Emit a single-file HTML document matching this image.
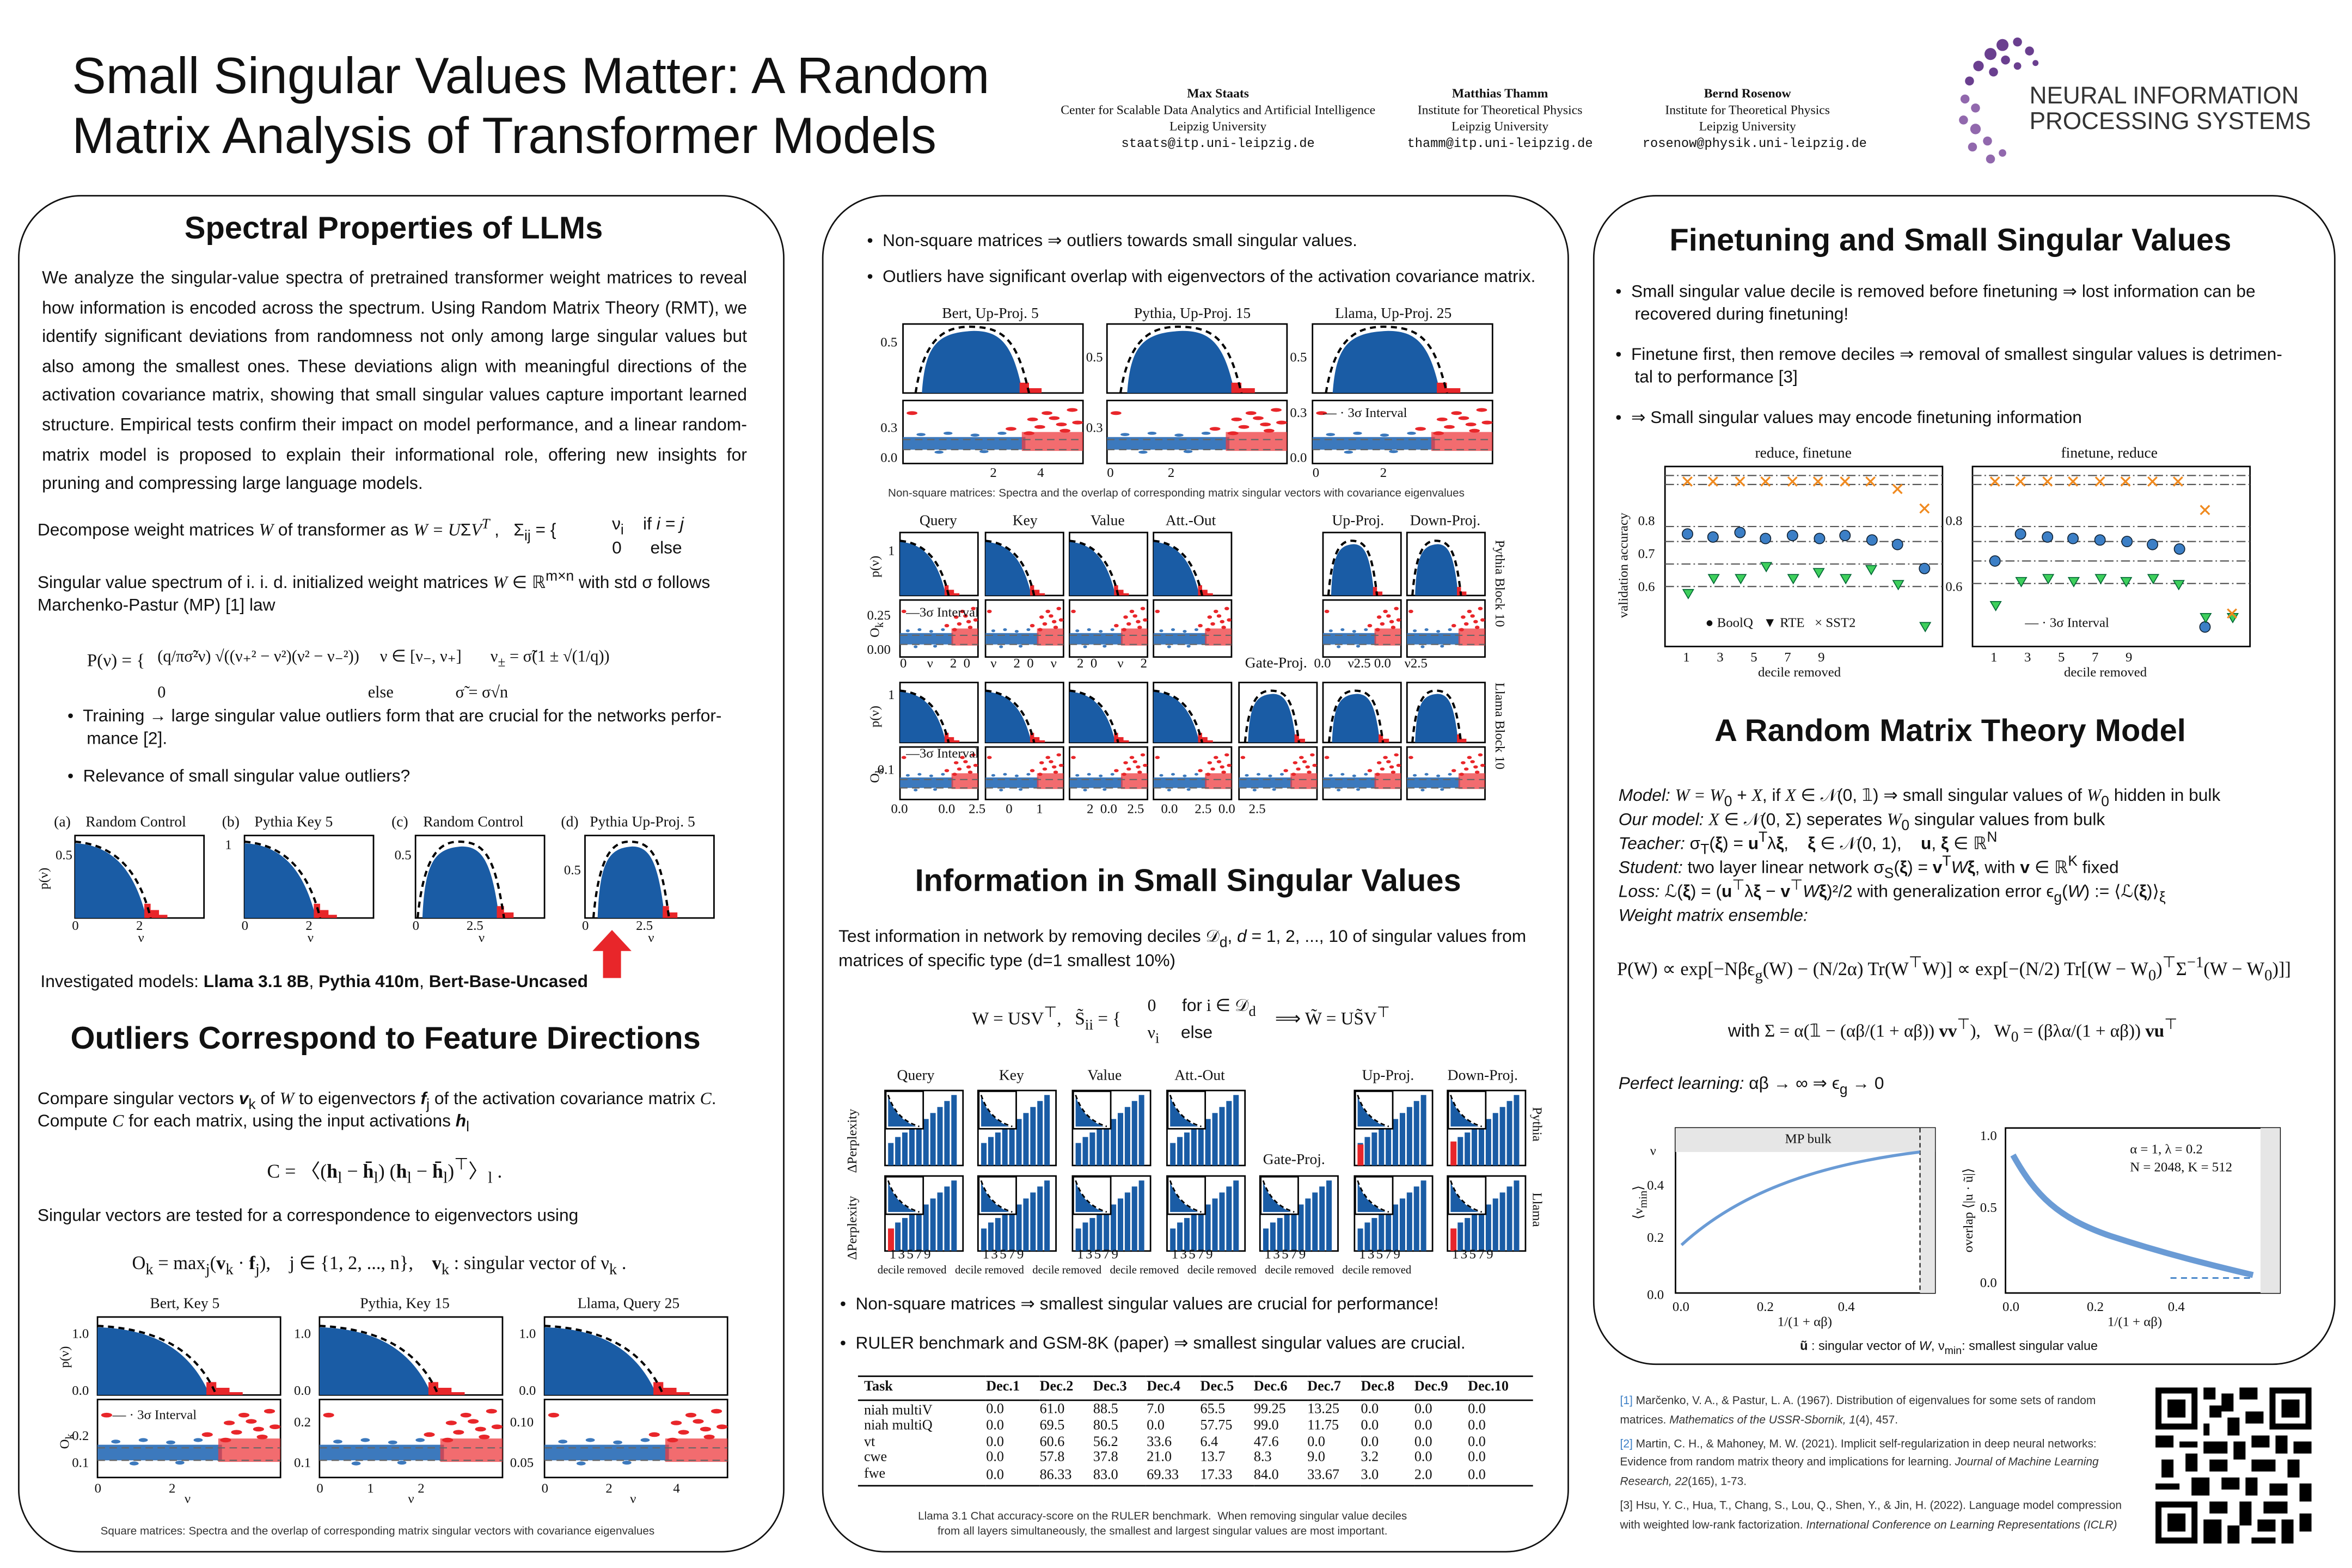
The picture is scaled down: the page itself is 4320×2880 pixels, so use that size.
<!DOCTYPE html>
<html><head><meta charset="utf-8">
<style>
*{margin:0;padding:0;box-sizing:border-box}
body{width:4320px;height:2880px;overflow:hidden;background:#fff}
#w{position:absolute;left:0;top:0;width:1568px;height:1045px;transform:scale(2.7551);transform-origin:0 0;font-family:"Liberation Sans",sans-serif;color:#111}
sub,sup{line-height:0}
.a{position:absolute;white-space:nowrap}
.s{font-family:"Liberation Serif",serif}
.box{position:absolute;border:1.6px solid #111;border-radius:42px}
h2{position:absolute;font-size:21px;font-weight:bold;white-space:nowrap}
.p{position:absolute;font-size:11.6px;line-height:19.6px;text-align:justify}
.t{font-size:11.5px}
.sm{font-size:9px}
svg.g{position:absolute;overflow:visible}
.ttl{font-family:"Liberation Serif",serif;font-size:10px}
</style></head><body><div id="w">

<svg width="0" height="0" style="position:absolute">
<defs>
<symbol id="hq" viewBox="0 0 100 100" preserveAspectRatio="none">
<path d="M0 100 L0 6 C30 8 55 30 68 100 Z" fill="#1a5ca5"/>
<path d="M66 100 L66 82 L72 82 L72 90 L80 90 L80 96 L88 96 L88 100Z" fill="#e8262a"/>
<path d="M0 4 C35 8 60 35 72 100" fill="none" stroke="#000" stroke-dasharray="4 3" stroke-width="1.5" vector-effect="non-scaling-stroke"/>
</symbol>
<symbol id="hb" viewBox="0 0 100 100" preserveAspectRatio="none">
<path d="M12 100 C14 30 22 12 45 10 C62 10 70 30 76 100 Z" fill="#1a5ca5"/>
<path d="M74 100 L74 85 L80 85 L80 93 L88 93 L88 100Z" fill="#e8262a"/>
<path d="M8 100 C14 10 30 0 50 5 C68 10 74 40 80 100" fill="none" stroke="#000" stroke-dasharray="4 3" stroke-width="1.5" vector-effect="non-scaling-stroke"/>
</symbol>
<symbol id="sc" viewBox="0 0 100 100" preserveAspectRatio="none">
<rect x="0" y="58" width="68" height="20" fill="#3c79bd"/>
<rect x="66" y="50" width="34" height="30" fill="#ee3b3f" opacity=".75"/>
<g fill="#e8262a"><circle cx="72" cy="30" r="3"/><circle cx="80" cy="20" r="3"/><circle cx="88" cy="38" r="3"/><circle cx="94" cy="15" r="3"/><circle cx="60" cy="45" r="3"/><circle cx="5" cy="20" r="3"/><circle cx="84" cy="28" r="3"/><circle cx="76" cy="42" r="3"/><circle cx="97" cy="35" r="3"/><circle cx="70" cy="52" r="3"/><circle cx="90" cy="48" r="3"/></g>
<g fill="#3c79bd"><circle cx="10" cy="54" r="2.5"/><circle cx="25" cy="52" r="2.5"/><circle cx="40" cy="55" r="2.5"/><circle cx="55" cy="52" r="2.5"/><circle cx="20" cy="82" r="2.5"/><circle cx="45" cy="81" r="2.5"/></g>
<line x1="0" y1="62" x2="100" y2="62" stroke="#666" stroke-dasharray="5 3" vector-effect="non-scaling-stroke" stroke-width=".8"/>
<line x1="0" y1="78" x2="100" y2="78" stroke="#666" stroke-dasharray="5 3" vector-effect="non-scaling-stroke" stroke-width=".8"/>
</symbol>
<symbol id="br" viewBox="0 0 100 100" preserveAspectRatio="none">
<g fill="#1a5ca5"><rect x="4" y="70" width="7" height="30"/><rect x="13" y="62" width="7" height="38"/><rect x="22" y="56" width="7" height="44"/><rect x="31" y="50" width="7" height="50"/><rect x="40" y="44" width="7" height="56"/><rect x="49" y="38" width="7" height="62"/><rect x="58" y="30" width="7" height="70"/><rect x="67" y="22" width="7" height="78"/><rect x="76" y="14" width="7" height="86"/><rect x="85" y="6" width="7" height="94"/></g>
<rect x="1" y="1" width="48" height="50" fill="#fff" stroke="#000" stroke-width="1" vector-effect="non-scaling-stroke"/>
<path d="M4 8 L4 48 L40 48 C20 40 10 25 4 8Z" fill="#1a5ca5"/>
<path d="M4 6 C12 30 25 42 44 48" fill="none" stroke="#000" stroke-dasharray="3 2" vector-effect="non-scaling-stroke"/>
</symbol>
</defs></svg>

<!-- header -->
<div class="a" style="left:48px;top:31px;font-size:34px;line-height:40px">Small Singular Values Matter: A Random<br>Matrix Analysis of Transformer Models</div>
<div class="a s" style="left:697px;top:57px;width:230px;text-align:center;font-size:8.6px;line-height:11px"><b>Max Staats</b><br>Center for Scalable Data Analytics and Artificial Intelligence<br>Leipzig University<br><span style="font-family:'Liberation Mono'">staats@itp.uni-leipzig.de</span></div>
<div class="a s" style="left:935px;top:57px;width:130px;text-align:center;font-size:8.6px;line-height:11px"><b>Matthias Thamm</b><br>Institute for Theoretical Physics<br>Leipzig University<br><span style="font-family:'Liberation Mono'">thamm@itp.uni-leipzig.de</span></div>
<div class="a s" style="left:1095px;top:57px;width:140px;text-align:center;font-size:8.6px;line-height:11px"><b>Bernd Rosenow</b><br>Institute for Theoretical Physics<br>Leipzig University<br><span style="font-family:'Liberation Mono'">rosenow@physik.uni-leipzig.de</span></div>
<svg class="g" style="left:1305px;top:22px" width="60" height="90" viewBox="0 0 60 90">
<g fill="#6a3f8f"><circle cx="30" cy="8" r="4"/><circle cx="40" cy="6" r="3"/><circle cx="22" cy="14" r="4"/><circle cx="48" cy="12" r="3"/><circle cx="14" cy="22" r="3.5"/><circle cx="32" cy="18" r="3"/><circle cx="8" cy="32" r="3"/><circle cx="24" cy="26" r="3"/><circle cx="40" cy="22" r="2.5"/><circle cx="52" cy="20" r="2"/></g>
<g fill="#9168ad"><circle cx="5" cy="44" r="3"/><circle cx="12" cy="50" r="3"/><circle cx="4" cy="58" r="3"/><circle cx="12" cy="64" r="3.5"/><circle cx="20" cy="72" r="3"/><circle cx="10" cy="76" r="3"/><circle cx="22" cy="84" r="3"/><circle cx="30" cy="80" r="2.5"/></g></svg>
<div class="a" style="left:1353px;top:56px;font-size:16px;line-height:17px;color:#333">NEURAL INFORMATION<br>PROCESSING SYSTEMS</div>

<!-- PANEL 1 -->
<div class="box" style="left:12px;top:130px;width:511px;height:905px"></div>
<h2 style="left:123px;top:141px">Spectral Properties of LLMs</h2>
<div class="p" style="left:28px;top:176px;width:470px">We analyze the singular-value spectra of pretrained transformer weight matrices to reveal how information is encoded across the spectrum. Using Random Matrix Theory (RMT), we identify significant deviations from randomness not only among large singular values but also among the smallest ones. These deviations align with meaningful directions of the activation covariance matrix, showing that small singular values capture important learned structure. Empirical tests confirm their impact on model performance, and a linear random-matrix model is proposed to explain their informational role, offering new insights for pruning and compressing large language models.</div>
<div class="a t" style="left:25px;top:348px">Decompose weight matrices <i class="s">W</i> of transformer as <i class="s">W = U</i>Σ<i class="s">V<sup>T</sup></i> ,&nbsp;&nbsp; Σ<sub>ij</sub> = {&nbsp;</div>
<div class="a t" style="left:408px;top:342px;line-height:16px">ν<sub>i</sub>&nbsp;&nbsp;&nbsp; if <i>i = j</i><br>0&nbsp;&nbsp;&nbsp;&nbsp;&nbsp; else</div>
<div class="a t" style="left:25px;top:382px;line-height:15px">Singular value spectrum of i. i. d. initialized weight matrices <i class="s">W</i> ∈ ℝ<sup>m×n</sup> with std σ follows<br>Marchenko-Pastur (MP) [1] law</div>
<div class="a t s" style="left:58px;top:433px;font-size:12px">P(ν) = {</div>
<div class="a t s" style="left:105px;top:426px;font-size:11px;line-height:24px">(q/πσ̃²ν) √((ν₊² − ν²)(ν² − ν₋²))&nbsp;&nbsp;&nbsp;&nbsp; ν ∈ [ν₋, ν₊]&nbsp;&nbsp;&nbsp;&nbsp;&nbsp;&nbsp; ν<sub>±</sub> = σ̃(1 ± √(1/q))<br>0&nbsp;&nbsp;&nbsp;&nbsp;&nbsp;&nbsp;&nbsp;&nbsp;&nbsp;&nbsp;&nbsp;&nbsp;&nbsp;&nbsp;&nbsp;&nbsp;&nbsp;&nbsp;&nbsp;&nbsp;&nbsp;&nbsp;&nbsp;&nbsp;&nbsp;&nbsp;&nbsp;&nbsp;&nbsp;&nbsp;&nbsp;&nbsp;&nbsp;&nbsp;&nbsp;&nbsp;&nbsp;&nbsp;&nbsp;&nbsp;&nbsp;&nbsp;&nbsp;&nbsp;&nbsp;&nbsp;&nbsp;&nbsp; else&nbsp;&nbsp;&nbsp;&nbsp;&nbsp;&nbsp;&nbsp;&nbsp;&nbsp;&nbsp;&nbsp;&nbsp;&nbsp;&nbsp; σ̃ = σ√n</div>
<div class="a t" style="left:45px;top:471px;line-height:15px">•&nbsp; Training → large singular value outliers form that are crucial for the networks perfor-<br>&nbsp;&nbsp;&nbsp; mance [2].</div>
<div class="a t" style="left:45px;top:512px">•&nbsp; Relevance of small singular value outliers?</div>
<!-- 4 plots -->
<div class="a ttl" style="left:36px;top:543px">(a)&nbsp;&nbsp;&nbsp; Random Control</div>
<div class="a ttl" style="left:148px;top:543px">(b)&nbsp;&nbsp;&nbsp; Pythia Key 5</div>
<div class="a ttl" style="left:261px;top:543px">(c)&nbsp;&nbsp;&nbsp; Random Control</div>
<div class="a ttl" style="left:374px;top:543px">(d)&nbsp;&nbsp; Pythia Up-Proj. 5</div>
<svg class="g" style="left:50px;top:557px" width="86" height="55"><rect x="0" y="0" width="86" height="55" fill="#fff" stroke="#000"/><use href="#hq" x="0" y="2" width="70" height="53"/></svg>
<svg class="g" style="left:163px;top:557px" width="86" height="55"><rect x="0" y="0" width="86" height="55" fill="#fff" stroke="#000"/><use href="#hq" x="0" y="2" width="70" height="53"/></svg>
<svg class="g" style="left:277px;top:557px" width="86" height="55"><rect x="0" y="0" width="86" height="55" fill="#fff" stroke="#000"/><use href="#hb" x="-5" y="2" width="80" height="53"/></svg>
<svg class="g" style="left:390px;top:557px" width="86" height="55"><rect x="0" y="0" width="86" height="55" fill="#fff" stroke="#000"/><use href="#hb" x="0" y="2" width="70" height="53"/></svg>
<div class="a s sm" style="left:24px;top:593px;transform:rotate(-90deg);transform-origin:0 0">p(ν)</div>
<div class="a s sm" style="left:37px;top:565px">0.5</div><div class="a s sm" style="left:150px;top:558px">1</div><div class="a s sm" style="left:263px;top:565px">0.5</div><div class="a s sm" style="left:376px;top:575px">0.5</div>
<div class="a s sm" style="left:48px;top:612px">0&nbsp;&nbsp;&nbsp;&nbsp;&nbsp;&nbsp;&nbsp;&nbsp;&nbsp;&nbsp;&nbsp;&nbsp;&nbsp;&nbsp;&nbsp;&nbsp; 2</div>
<div class="a s sm" style="left:161px;top:612px">0&nbsp;&nbsp;&nbsp;&nbsp;&nbsp;&nbsp;&nbsp;&nbsp;&nbsp;&nbsp;&nbsp;&nbsp;&nbsp;&nbsp;&nbsp;&nbsp; 2</div>
<div class="a s sm" style="left:275px;top:612px">0&nbsp;&nbsp;&nbsp;&nbsp;&nbsp;&nbsp;&nbsp;&nbsp;&nbsp;&nbsp;&nbsp;&nbsp;&nbsp; 2.5</div>
<div class="a s sm" style="left:388px;top:612px">0&nbsp;&nbsp;&nbsp;&nbsp;&nbsp;&nbsp;&nbsp;&nbsp;&nbsp;&nbsp;&nbsp;&nbsp;&nbsp; 2.5</div>
<div class="a s sm" style="left:92px;top:620px">ν</div><div class="a s sm" style="left:205px;top:620px">ν</div><div class="a s sm" style="left:319px;top:620px">ν</div><div class="a s sm" style="left:432px;top:620px">ν</div>
<svg class="g" style="left:395px;top:620px" width="26" height="32"><path d="M13 0 L26 14 L19 14 L19 32 L7 32 L7 14 L0 14Z" fill="#e8262a"/></svg>
<div class="a t" style="left:27px;top:649px">Investigated models: <b>Llama 3.1 8B</b>, <b>Pythia 410m</b>, <b>Bert-Base-Uncased</b></div>
<h2 style="left:47px;top:681px">Outliers Correspond to Feature Directions</h2>
<div class="a t" style="left:25px;top:726px;line-height:15px">Compare singular vectors <b><i>v</i></b><sub>k</sub> of <i class="s">W</i> to eigenvectors <b><i>f</i></b><sub>j</sub> of the activation covariance matrix <i class="s">C</i>.<br>Compute <i class="s">C</i> for each matrix, using the input activations <b><i>h</i></b><sub>l</sub></div>
<div class="a s" style="left:178px;top:770px;font-size:13px">C = 〈(<b>h</b><sub>l</sub> − <b>h̄</b><sub>l</sub>) (<b>h</b><sub>l</sub> − <b>h̄</b><sub>l</sub>)<sup>⊤</sup>〉<sub>l</sub> .</div>
<div class="a t" style="left:25px;top:805px">Singular vectors are tested for a correspondence to eigenvectors using</div>
<div class="a s" style="left:88px;top:834px;font-size:12.5px">O<sub>k</sub> = max<sub>j</sub>(<b>v</b><sub>k</sub> · <b>f</b><sub>j</sub>),&nbsp;&nbsp;&nbsp; j ∈ {1, 2, ..., n},&nbsp;&nbsp;&nbsp; <b>v</b><sub>k</sub> : singular vector of ν<sub>k</sub> .</div>
<div class="a ttl" style="left:100px;top:864px">Bert, Key 5</div><div class="a ttl" style="left:240px;top:864px">Pythia, Key 15</div><div class="a ttl" style="left:385px;top:864px">Llama, Query 25</div>
<svg class="g" style="left:65px;top:878px" width="122" height="52"><rect width="122" height="52" fill="#fff" stroke="#000"/><use href="#hq" x="0" y="4" width="110" height="48"/></svg>
<svg class="g" style="left:213px;top:878px" width="122" height="52"><rect width="122" height="52" fill="#fff" stroke="#000"/><use href="#hq" x="0" y="4" width="110" height="48"/></svg>
<svg class="g" style="left:363px;top:878px" width="122" height="52"><rect width="122" height="52" fill="#fff" stroke="#000"/><use href="#hq" x="0" y="4" width="110" height="48"/></svg>
<svg class="g" style="left:65px;top:933px" width="122" height="52"><rect width="122" height="52" fill="#fff" stroke="#000"/><use href="#sc" width="122" height="52"/></svg>
<svg class="g" style="left:213px;top:933px" width="122" height="52"><rect width="122" height="52" fill="#fff" stroke="#000"/><use href="#sc" width="122" height="52"/></svg>
<svg class="g" style="left:363px;top:933px" width="122" height="52"><rect width="122" height="52" fill="#fff" stroke="#000"/><use href="#sc" width="122" height="52"/></svg>
<div class="a s sm" style="left:75px;top:938px">— · 3σ Interval</div>
<div class="a s sm" style="left:38px;top:912px;transform:rotate(-90deg);transform-origin:0 0">p(ν)</div><div class="a s sm" style="left:38px;top:966px;transform:rotate(-90deg);transform-origin:0 0">O<sub>k</sub></div>
<div class="a s sm" style="left:48px;top:884px">1.0</div><div class="a s sm" style="left:48px;top:922px">0.0</div><div class="a s sm" style="left:196px;top:884px">1.0</div><div class="a s sm" style="left:196px;top:922px">0.0</div><div class="a s sm" style="left:346px;top:884px">1.0</div><div class="a s sm" style="left:346px;top:922px">0.0</div>
<div class="a s sm" style="left:48px;top:952px">0.2</div><div class="a s sm" style="left:48px;top:970px">0.1</div><div class="a s sm" style="left:196px;top:943px">0.2</div><div class="a s sm" style="left:196px;top:970px">0.1</div><div class="a s sm" style="left:340px;top:943px">0.10</div><div class="a s sm" style="left:340px;top:970px">0.05</div>
<div class="a s sm" style="left:63px;top:987px">0&nbsp;&nbsp;&nbsp;&nbsp;&nbsp;&nbsp;&nbsp;&nbsp;&nbsp;&nbsp;&nbsp;&nbsp;&nbsp;&nbsp;&nbsp;&nbsp;&nbsp;&nbsp;&nbsp; 2</div>
<div class="a s sm" style="left:211px;top:987px">0&nbsp;&nbsp;&nbsp;&nbsp;&nbsp;&nbsp;&nbsp;&nbsp;&nbsp;&nbsp;&nbsp;&nbsp; 1&nbsp;&nbsp;&nbsp;&nbsp;&nbsp;&nbsp;&nbsp;&nbsp;&nbsp;&nbsp;&nbsp;&nbsp; 2</div>
<div class="a s sm" style="left:361px;top:987px">0&nbsp;&nbsp;&nbsp;&nbsp;&nbsp;&nbsp;&nbsp;&nbsp;&nbsp;&nbsp;&nbsp;&nbsp;&nbsp;&nbsp;&nbsp;&nbsp; 2&nbsp;&nbsp;&nbsp;&nbsp;&nbsp;&nbsp;&nbsp;&nbsp;&nbsp;&nbsp;&nbsp;&nbsp;&nbsp;&nbsp;&nbsp;&nbsp;&nbsp; 4</div>
<div class="a s sm" style="left:123px;top:994px">ν</div><div class="a s sm" style="left:272px;top:994px">ν</div><div class="a s sm" style="left:420px;top:994px">ν</div>
<div class="a" style="left:67px;top:1016px;font-size:7.5px;color:#333">Square matrices: Spectra and the overlap of corresponding matrix singular vectors with covariance eigenvalues</div>

<!-- PANEL 2 -->
<div class="box" style="left:548px;top:130px;width:498px;height:905px"></div>
<div class="a t" style="left:578px;top:153px">•&nbsp; Non-square matrices ⇒ outliers towards small singular values.</div>
<div class="a t" style="left:578px;top:179px">•&nbsp; Outliers have significant overlap with eigenvectors of the activation covariance matrix.</div>
<div class="a ttl" style="left:628px;top:204px">Bert, Up-Proj. 5</div><div class="a ttl" style="left:756px;top:204px">Pythia, Up-Proj. 15</div><div class="a ttl" style="left:890px;top:204px">Llama, Up-Proj. 25</div>
<svg class="g" style="left:602px;top:216px" width="120" height="46"><rect width="120" height="46" fill="#fff" stroke="#000"/><use href="#hb" x="0" y="0" width="105" height="46"/></svg>
<svg class="g" style="left:738px;top:216px" width="120" height="46"><rect width="120" height="46" fill="#fff" stroke="#000"/><use href="#hb" x="0" y="0" width="112" height="46"/></svg>
<svg class="g" style="left:875px;top:216px" width="120" height="46"><rect width="120" height="46" fill="#fff" stroke="#000"/><use href="#hb" x="0" y="0" width="112" height="46"/></svg>
<svg class="g" style="left:602px;top:267px" width="120" height="42"><rect width="120" height="42" fill="#fff" stroke="#000"/><use href="#sc" width="120" height="42"/></svg>
<svg class="g" style="left:738px;top:267px" width="120" height="42"><rect width="120" height="42" fill="#fff" stroke="#000"/><use href="#sc" width="120" height="42"/></svg>
<svg class="g" style="left:875px;top:267px" width="120" height="42"><rect width="120" height="42" fill="#fff" stroke="#000"/><use href="#sc" width="120" height="42"/></svg>
<div class="a s sm" style="left:882px;top:270px">— · 3σ Interval</div>
<div class="a s sm" style="left:587px;top:223px">0.5</div><div class="a s sm" style="left:724px;top:233px">0.5</div><div class="a s sm" style="left:860px;top:233px">0.5</div>
<div class="a s sm" style="left:587px;top:280px">0.3</div><div class="a s sm" style="left:587px;top:300px">0.0</div><div class="a s sm" style="left:724px;top:280px">0.3</div><div class="a s sm" style="left:860px;top:270px">0.3</div><div class="a s sm" style="left:860px;top:300px">0.0</div>
<div class="a s sm" style="left:660px;top:310px">2&nbsp;&nbsp;&nbsp;&nbsp;&nbsp;&nbsp;&nbsp;&nbsp;&nbsp;&nbsp;&nbsp; 4</div><div class="a s sm" style="left:738px;top:310px">0&nbsp;&nbsp;&nbsp;&nbsp;&nbsp;&nbsp;&nbsp;&nbsp;&nbsp;&nbsp;&nbsp;&nbsp;&nbsp;&nbsp;&nbsp; 2</div><div class="a s sm" style="left:875px;top:310px">0&nbsp;&nbsp;&nbsp;&nbsp;&nbsp;&nbsp;&nbsp;&nbsp;&nbsp;&nbsp;&nbsp;&nbsp;&nbsp;&nbsp;&nbsp;&nbsp;&nbsp; 2</div>
<div class="a" style="left:592px;top:324px;font-size:7.5px;color:#333">Non-square matrices: Spectra and the overlap of corresponding matrix singular vectors with covariance eigenvalues</div>
<!-- pythia/llama block grid -->
<div class="a ttl" style="left:613px;top:342px">Query</div><div class="a ttl" style="left:675px;top:342px">Key</div><div class="a ttl" style="left:727px;top:342px">Value</div><div class="a ttl" style="left:777px;top:342px">Att.-Out</div><div class="a ttl" style="left:888px;top:342px">Up-Proj.</div><div class="a ttl" style="left:940px;top:342px">Down-Proj.</div>
<svg class="g" style="left:600px;top:355px" width="400" height="180">
<g stroke="#000" fill="#fff">
<rect x="0" y="0" width="52" height="42"/><rect x="57" y="0" width="52" height="42"/><rect x="113" y="0" width="52" height="42"/><rect x="169" y="0" width="52" height="42"/><rect x="282" y="0" width="52" height="42"/><rect x="338" y="0" width="52" height="42"/>
<rect x="0" y="45" width="52" height="38"/><rect x="57" y="45" width="52" height="38"/><rect x="113" y="45" width="52" height="38"/><rect x="169" y="45" width="52" height="38"/><rect x="282" y="45" width="52" height="38"/><rect x="338" y="45" width="52" height="38"/>
<rect x="0" y="100" width="52" height="40"/><rect x="57" y="100" width="52" height="40"/><rect x="113" y="100" width="52" height="40"/><rect x="169" y="100" width="52" height="40"/><rect x="226" y="100" width="52" height="40"/><rect x="282" y="100" width="52" height="40"/><rect x="338" y="100" width="52" height="40"/>
<rect x="0" y="143" width="52" height="35"/><rect x="57" y="143" width="52" height="35"/><rect x="113" y="143" width="52" height="35"/><rect x="169" y="143" width="52" height="35"/><rect x="226" y="143" width="52" height="35"/><rect x="282" y="143" width="52" height="35"/><rect x="338" y="143" width="52" height="35"/>
</g>
<use href="#hq" x="0" y="4" width="45" height="38"/><use href="#hq" x="57" y="4" width="45" height="38"/><use href="#hq" x="113" y="4" width="45" height="38"/><use href="#hq" x="169" y="4" width="45" height="38"/><use href="#hb" x="282" y="4" width="45" height="38"/><use href="#hb" x="338" y="4" width="45" height="38"/>
<use href="#sc" x="0" y="45" width="52" height="38"/><use href="#sc" x="57" y="45" width="52" height="38"/><use href="#sc" x="113" y="45" width="52" height="38"/><use href="#sc" x="169" y="45" width="52" height="38"/><use href="#sc" x="282" y="45" width="52" height="38"/><use href="#sc" x="338" y="45" width="52" height="38"/>
<use href="#hq" x="0" y="104" width="45" height="36"/><use href="#hq" x="57" y="104" width="45" height="36"/><use href="#hq" x="113" y="104" width="45" height="36"/><use href="#hq" x="169" y="104" width="45" height="36"/><use href="#hb" x="226" y="104" width="50" height="36"/><use href="#hb" x="282" y="104" width="50" height="36"/><use href="#hb" x="338" y="104" width="45" height="36"/>
<use href="#sc" x="0" y="143" width="52" height="35"/><use href="#sc" x="57" y="143" width="52" height="35"/><use href="#sc" x="113" y="143" width="52" height="35"/><use href="#sc" x="169" y="143" width="52" height="35"/><use href="#sc" x="226" y="143" width="52" height="35"/><use href="#sc" x="282" y="143" width="52" height="35"/><use href="#sc" x="338" y="143" width="52" height="35"/>
</svg>
<div class="a ttl" style="left:830px;top:437px">Gate-Proj.</div>
<div class="a s sm" style="top:360px;transform:rotate(90deg);transform-origin:0 0;left:1005px">Pythia Block 10</div>
<div class="a s sm" style="left:1005px;top:455px;transform:rotate(90deg);transform-origin:0 0">Llama Block 10</div>
<div class="a s sm" style="left:578px;top:385px;transform:rotate(-90deg);transform-origin:0 0">p(ν)</div><div class="a s sm" style="left:578px;top:425px;transform:rotate(-90deg);transform-origin:0 0">O<sub>k</sub></div>
<div class="a s sm" style="left:578px;top:485px;transform:rotate(-90deg);transform-origin:0 0">p(ν)</div><div class="a s sm" style="left:578px;top:522px;transform:rotate(-90deg);transform-origin:0 0">O<sub>k</sub></div>
<div class="a s sm" style="left:604px;top:403px">—3σ Interval</div><div class="a s sm" style="left:604px;top:497px">—3σ Interval</div>
<div class="a s sm" style="left:592px;top:362px">1</div><div class="a s sm" style="left:578px;top:405px">0.25</div><div class="a s sm" style="left:578px;top:428px">0.00</div>
<div class="a s sm" style="left:592px;top:458px">1</div><div class="a s sm" style="left:585px;top:508px">0.1</div>
<div class="a s sm" style="left:600px;top:437px">0&nbsp;&nbsp;&nbsp;&nbsp;&nbsp; ν&nbsp;&nbsp;&nbsp;&nbsp; 2&nbsp; 0&nbsp;&nbsp;&nbsp;&nbsp;&nbsp; ν&nbsp;&nbsp;&nbsp;&nbsp; 2&nbsp; 0&nbsp;&nbsp;&nbsp;&nbsp; ν&nbsp;&nbsp;&nbsp;&nbsp;&nbsp; 2&nbsp; 0&nbsp;&nbsp;&nbsp;&nbsp;&nbsp; ν&nbsp;&nbsp;&nbsp;&nbsp; 2</div>
<div class="a s sm" style="left:876px;top:437px">0.0&nbsp;&nbsp;&nbsp;&nbsp; ν2.5 0.0&nbsp;&nbsp;&nbsp; ν2.5</div>
<div class="a s sm" style="left:594px;top:534px">0.0&nbsp;&nbsp;&nbsp;&nbsp;&nbsp;&nbsp;&nbsp;&nbsp; 0.0&nbsp;&nbsp;&nbsp; 2.5&nbsp;&nbsp;&nbsp;&nbsp;&nbsp; 0&nbsp;&nbsp;&nbsp;&nbsp;&nbsp;&nbsp; 1&nbsp;&nbsp;&nbsp;&nbsp;&nbsp;&nbsp;&nbsp;&nbsp;&nbsp;&nbsp;&nbsp;&nbsp; 2&nbsp; 0.0&nbsp;&nbsp; 2.5&nbsp;&nbsp;&nbsp;&nbsp; 0.0&nbsp;&nbsp;&nbsp;&nbsp; 2.5&nbsp; 0.0&nbsp;&nbsp;&nbsp; 2.5</div>
<h2 style="left:610px;top:576px">Information in Small Singular Values</h2>
<div class="a t" style="left:559px;top:617px;line-height:16px">Test information in network by removing deciles 𝒟<sub>d</sub>, <i>d</i> = 1, 2, ..., 10 of singular values from<br>matrices of specific type (d=1 smallest 10%)</div>
<div class="a s" style="left:648px;top:672px;font-size:12px">W = USV<sup>⊤</sup>,&nbsp;&nbsp; S̃<sub>ii</sub> = {</div>
<div class="a s" style="left:765px;top:662px;font-size:11.5px;line-height:18px">0&nbsp;&nbsp;&nbsp;&nbsp;&nbsp; <span style="font-family:'Liberation Sans'">for</span> i ∈ 𝒟<sub>d</sub><br>ν<sub>i</sub>&nbsp;&nbsp;&nbsp;&nbsp; <span style="font-family:'Liberation Sans'">else</span></div>
<div class="a s" style="left:850px;top:672px;font-size:12px">⟹ W̃ = US̃V<sup>⊤</sup></div>
<!-- bar grid -->
<div class="a ttl" style="left:598px;top:712px">Query</div><div class="a ttl" style="left:666px;top:712px">Key</div><div class="a ttl" style="left:725px;top:712px">Value</div><div class="a ttl" style="left:783px;top:712px">Att.-Out</div><div class="a ttl" style="left:908px;top:712px">Up-Proj.</div><div class="a ttl" style="left:965px;top:712px">Down-Proj.</div><div class="a ttl" style="left:842px;top:768px">Gate-Proj.</div>
<svg class="g" style="left:590px;top:727px" width="430" height="110">
<g stroke="#000" fill="#fff">
<rect x="0" y="0" width="52" height="50"/><rect x="62" y="0" width="52" height="50"/><rect x="125" y="0" width="52" height="50"/><rect x="188" y="0" width="52" height="50"/><rect x="313" y="0" width="52" height="50"/><rect x="375" y="0" width="52" height="50"/>
<rect x="0" y="57" width="52" height="50"/><rect x="62" y="57" width="52" height="50"/><rect x="125" y="57" width="52" height="50"/><rect x="188" y="57" width="52" height="50"/><rect x="250" y="57" width="52" height="50"/><rect x="313" y="57" width="52" height="50"/><rect x="375" y="57" width="52" height="50"/>
</g>
<use href="#br" x="0" y="0" width="52" height="50"/><use href="#br" x="62" y="0" width="52" height="50"/><use href="#br" x="125" y="0" width="52" height="50"/><use href="#br" x="188" y="0" width="52" height="50"/><use href="#br" x="313" y="0" width="52" height="50"/><use href="#br" x="375" y="0" width="52" height="50"/>
<use href="#br" x="0" y="57" width="52" height="50"/><use href="#br" x="62" y="57" width="52" height="50"/><use href="#br" x="125" y="57" width="52" height="50"/><use href="#br" x="188" y="57" width="52" height="50"/><use href="#br" x="250" y="57" width="52" height="50"/><use href="#br" x="313" y="57" width="52" height="50"/><use href="#br" x="375" y="57" width="52" height="50"/>
<g fill="#e8262a"><rect x="315" y="36" width="4" height="14"/><rect x="377" y="34" width="4" height="16"/><rect x="2" y="92" width="4" height="15"/><rect x="377" y="92" width="4" height="15"/></g>
</svg>
<div class="a s sm" style="left:563px;top:782px;transform:rotate(-90deg);transform-origin:0 0">ΔPerplexity</div>
<div class="a s sm" style="left:563px;top:840px;transform:rotate(-90deg);transform-origin:0 0">ΔPerplexity</div>
<div class="a s sm" style="top:738px;transform:rotate(90deg);transform-origin:0 0;left:1030px">Pythia</div>
<div class="a s sm" style="left:1030px;top:795px;transform:rotate(90deg);transform-origin:0 0">Llama</div>
<div class="a s" style="left:593px;top:831px;font-size:9px;word-spacing:-1px">1 3 5 7 9</div><div class="a s" style="left:655px;top:831px;font-size:9px;word-spacing:-1px">1 3 5 7 9</div><div class="a s" style="left:718px;top:831px;font-size:9px;word-spacing:-1px">1 3 5 7 9</div><div class="a s" style="left:781px;top:831px;font-size:9px;word-spacing:-1px">1 3 5 7 9</div><div class="a s" style="left:843px;top:831px;font-size:9px;word-spacing:-1px">1 3 5 7 9</div><div class="a s" style="left:906px;top:831px;font-size:9px;word-spacing:-1px">1 3 5 7 9</div><div class="a s" style="left:968px;top:831px;font-size:9px;word-spacing:-1px">1 3 5 7 9</div>
<div class="a s" style="left:585px;top:842px;font-size:7.5px">decile removed&nbsp;&nbsp; decile removed&nbsp;&nbsp; decile removed&nbsp;&nbsp; decile removed&nbsp;&nbsp; decile removed&nbsp;&nbsp; decile removed&nbsp;&nbsp; decile removed</div>
<div class="a t" style="left:560px;top:862px">•&nbsp; Non-square matrices ⇒ smallest singular values are crucial for performance!</div>
<div class="a t" style="left:560px;top:888px">•&nbsp; RULER benchmark and GSM-8K (paper) ⇒ smallest singular values are crucial.</div>
<table class="a s" style="left:572px;top:917px;width:450px;border-collapse:collapse;font-size:9.5px;line-height:10.5px;border-top:1.5px solid #000;border-bottom:1.5px solid #000">
<tr style="border-bottom:1px solid #000;font-weight:bold"><td style="padding:2px 4px">Task</td><td>Dec.1</td><td>Dec.2</td><td>Dec.3</td><td>Dec.4</td><td>Dec.5</td><td>Dec.6</td><td>Dec.7</td><td>Dec.8</td><td>Dec.9</td><td>Dec.10</td></tr>
<tr><td style="padding:2px 4px 0">niah multiV</td><td>0.0</td><td>61.0</td><td>88.5</td><td>7.0</td><td>65.5</td><td>99.25</td><td>13.25</td><td>0.0</td><td>0.0</td><td>0.0</td></tr>
<tr><td style="padding:0 4px">niah multiQ</td><td>0.0</td><td>69.5</td><td>80.5</td><td>0.0</td><td>57.75</td><td>99.0</td><td>11.75</td><td>0.0</td><td>0.0</td><td>0.0</td></tr>
<tr><td style="padding:0 4px">vt</td><td>0.0</td><td>60.6</td><td>56.2</td><td>33.6</td><td>6.4</td><td>47.6</td><td>0.0</td><td>0.0</td><td>0.0</td><td>0.0</td></tr>
<tr><td style="padding:0 4px">cwe</td><td>0.0</td><td>57.8</td><td>37.8</td><td>21.0</td><td>13.7</td><td>8.3</td><td>9.0</td><td>3.2</td><td>0.0</td><td>0.0</td></tr>
<tr><td style="padding:0 4px 2px">fwe</td><td>0.0</td><td>86.33</td><td>83.0</td><td>69.33</td><td>17.33</td><td>84.0</td><td>33.67</td><td>3.0</td><td>2.0</td><td>0.0</td></tr>
</table>
<div class="a" style="left:612px;top:1006px;font-size:7.5px;line-height:10px;color:#333;text-align:center">Llama 3.1 Chat accuracy-score on the RULER benchmark.&nbsp; When removing singular value deciles<br>from all layers simultaneously, the smallest and largest singular values are most important.</div>

<!-- PANEL 3 -->
<div class="box" style="left:1062px;top:130px;width:495px;height:780px"></div>
<h2 style="left:1113px;top:149px">Finetuning and Small Singular Values</h2>
<div class="a t" style="left:1077px;top:188px;line-height:15px">•&nbsp; Small singular value decile is removed before finetuning ⇒ lost information can be<br>&nbsp;&nbsp;&nbsp; recovered during finetuning!</div>
<div class="a t" style="left:1077px;top:230px;line-height:15px">•&nbsp; Finetune first, then remove deciles ⇒ removal of smallest singular values is detrimen-<br>&nbsp;&nbsp;&nbsp; tal to performance [3]</div>
<div class="a t" style="left:1077px;top:271px">•&nbsp; ⇒ Small singular values may encode finetuning information</div>
<div class="a ttl" style="left:1170px;top:297px">reduce, finetune</div><div class="a ttl" style="left:1374px;top:297px">finetune, reduce</div>
<svg class="g" style="left:1110px;top:311px" width="390" height="120">
<rect x="0" y="0" width="185" height="120" fill="#fff" stroke="#000"/><rect x="205" y="0" width="185" height="120" fill="#fff" stroke="#000"/>
<g stroke="#555" stroke-dasharray="6 2 1 2" stroke-width=".8"><line x1="0" y1="6" x2="185" y2="6"/><line x1="0" y1="12" x2="185" y2="12"/><line x1="0" y1="40" x2="185" y2="40"/><line x1="0" y1="50" x2="185" y2="50"/><line x1="0" y1="65" x2="185" y2="65"/><line x1="0" y1="80" x2="185" y2="80"/>
<line x1="205" y1="6" x2="390" y2="6"/><line x1="205" y1="12" x2="390" y2="12"/><line x1="205" y1="40" x2="390" y2="40"/><line x1="205" y1="50" x2="390" y2="50"/><line x1="205" y1="63" x2="390" y2="63"/><line x1="205" y1="78" x2="390" y2="78"/></g>
<g fill="#3c7fc6" stroke="#123" stroke-width=".6"><circle cx="15" cy="45" r="3.5"/><circle cx="32" cy="47" r="3.5"/><circle cx="50" cy="44" r="3.5"/><circle cx="67" cy="48" r="3.5"/><circle cx="85" cy="46" r="3.5"/><circle cx="103" cy="48" r="3.5"/><circle cx="120" cy="46" r="3.5"/><circle cx="138" cy="49" r="3.5"/><circle cx="155" cy="52" r="3.5"/><circle cx="173" cy="68" r="3.5"/>
<circle cx="220" cy="63" r="3.5"/><circle cx="237" cy="45" r="3.5"/><circle cx="255" cy="47" r="3.5"/><circle cx="272" cy="48" r="3.5"/><circle cx="290" cy="49" r="3.5"/><circle cx="308" cy="50" r="3.5"/><circle cx="325" cy="52" r="3.5"/><circle cx="343" cy="55" r="3.5"/><circle cx="360" cy="107" r="3.5"/></g>
<g fill="#3ecf5c" stroke="#063" stroke-width=".6"><path d="M12 82h7l-3.5 6z"/><path d="M29 72h7l-3.5 6z"/><path d="M47 72h7l-3.5 6z"/><path d="M64 64h7l-3.5 6z"/><path d="M82 72h7l-3.5 6z"/><path d="M99 68h7l-3.5 6z"/><path d="M117 72h7l-3.5 6z"/><path d="M134 66h7l-3.5 6z"/><path d="M152 76h7l-3.5 6z"/><path d="M170 104h7l-3.5 6z"/>
<path d="M217 90h7l-3.5 6z"/><path d="M234 74h7l-3.5 6z"/><path d="M252 72h7l-3.5 6z"/><path d="M269 74h7l-3.5 6z"/><path d="M287 72h7l-3.5 6z"/><path d="M304 74h7l-3.5 6z"/><path d="M322 72h7l-3.5 6z"/><path d="M339 76h7l-3.5 6z"/><path d="M357 98h7l-3.5 6z"/><path d="M375 98h7l-3.5 6z"/></g>
<g fill="none" stroke="#f08a1f" stroke-width="1.2"><path d="M12 7l6 6M18 7l-6 6M29 7l6 6M35 7l-6 6M47 7l6 6M53 7l-6 6M64 7l6 6M70 7l-6 6M82 7l6 6M88 7l-6 6M99 7l6 6M105 7l-6 6M117 7l6 6M123 7l-6 6M134 7l6 6M140 7l-6 6M152 12l6 6M158 12l-6 6M170 25l6 6M176 25l-6 6"/>
<path d="M217 7l6 6M223 7l-6 6M234 7l6 6M240 7l-6 6M252 7l6 6M258 7l-6 6M269 7l6 6M275 7l-6 6M287 7l6 6M293 7l-6 6M304 7l6 6M310 7l-6 6M322 7l6 6M328 7l-6 6M339 7l6 6M345 7l-6 6M357 26l6 6M363 26l-6 6M375 95l6 6M381 95l-6 6"/></g>
</svg>
<div class="a s sm" style="left:1137px;top:410px">● BoolQ&nbsp;&nbsp; ▼ RTE&nbsp;&nbsp; × SST2</div>
<div class="a s sm" style="left:1350px;top:410px">— · 3σ Interval</div>
<div class="a s sm" style="left:1092px;top:342px">0.8</div><div class="a s sm" style="left:1092px;top:364px">0.7</div><div class="a s sm" style="left:1092px;top:386px">0.6</div>
<div class="a s sm" style="left:1297px;top:342px">0.8</div><div class="a s sm" style="left:1297px;top:386px">0.6</div>
<div class="a s sm" style="left:1077px;top:412px;transform:rotate(-90deg);transform-origin:0 0">validation accuracy</div>
<div class="a s sm" style="left:1122px;top:433px">1&nbsp;&nbsp;&nbsp;&nbsp;&nbsp;&nbsp;&nbsp; 3&nbsp;&nbsp;&nbsp;&nbsp;&nbsp;&nbsp;&nbsp; 5&nbsp;&nbsp;&nbsp;&nbsp;&nbsp;&nbsp;&nbsp; 7&nbsp;&nbsp;&nbsp;&nbsp;&nbsp;&nbsp;&nbsp; 9</div>
<div class="a s sm" style="left:1327px;top:433px">1&nbsp;&nbsp;&nbsp;&nbsp;&nbsp;&nbsp;&nbsp; 3&nbsp;&nbsp;&nbsp;&nbsp;&nbsp;&nbsp;&nbsp; 5&nbsp;&nbsp;&nbsp;&nbsp;&nbsp;&nbsp;&nbsp; 7&nbsp;&nbsp;&nbsp;&nbsp;&nbsp;&nbsp;&nbsp; 9</div>
<div class="a s sm" style="left:1172px;top:443px">decile removed</div><div class="a s sm" style="left:1376px;top:443px">decile removed</div>
<h2 style="left:1143px;top:476px">A Random Matrix Theory Model</h2>
<div class="a t" style="left:1079px;top:523px;line-height:16px"><i>Model:</i> <i class="s">W = W</i><sub>0</sub> + <i class="s">X</i>, if <i class="s">X</i> ∈ 𝒩(0, 𝟙) ⇒ small singular values of <i class="s">W</i><sub>0</sub> hidden in bulk<br><i>Our model:</i> <i class="s">X</i> ∈ 𝒩(0, Σ) seperates <i class="s">W</i><sub>0</sub> singular values from bulk<br><i>Teacher:</i> σ<sub>T</sub>(<b>ξ</b>) = <b>u</b><sup>T</sup>λ<b>ξ</b>,&nbsp;&nbsp;&nbsp; <b>ξ</b> ∈ 𝒩(0, 1),&nbsp;&nbsp;&nbsp; <b>u</b>, <b>ξ</b> ∈ ℝ<sup>N</sup><br><i>Student:</i> two layer linear network σ<sub>S</sub>(<b>ξ</b>) = <b>v</b><sup>T</sup><i>W</i><b>ξ</b>, with <b>v</b> ∈ ℝ<sup>K</sup> fixed<br><i>Loss:</i> ℒ(<b>ξ</b>) = (<b>u</b><sup>⊤</sup>λ<b>ξ</b> − <b>v</b><sup>⊤</sup><i>W</i><b>ξ</b>)²/2 with generalization error ϵ<sub>g</sub>(<i>W</i>) := ⟨ℒ(<b>ξ</b>)⟩<sub>ξ</sub><br><i>Weight matrix ensemble:</i></div>
<div class="a s" style="left:1078px;top:638px;font-size:12.5px">P(W) ∝ exp[−Nβϵ<sub>g</sub>(W) − (N/2α) Tr(W<sup>⊤</sup>W)] ∝ exp[−(N/2) Tr[(W − W<sub>0</sub>)<sup>⊤</sup>Σ<sup>−1</sup>(W − W<sub>0</sub>)]]</div>
<div class="a s" style="left:1152px;top:680px;font-size:12px"><span style="font-family:'Liberation Sans'">with</span> Σ = α(𝟙 − (αβ/(1 + αβ)) <b>vv</b><sup>⊤</sup>),&nbsp;&nbsp; W<sub>0</sub> = (βλα/(1 + αβ)) <b>vu</b><sup>⊤</sup></div>
<div class="a t" style="left:1079px;top:715px"><i>Perfect learning:</i> αβ → ∞ ⇒ ϵ<sub>g</sub> → 0</div>
<svg class="g" style="left:1117px;top:752px" width="410" height="112">
<rect x="0" y="0" width="173" height="110" fill="#fff" stroke="#000"/>
<rect x="0" y="0" width="173" height="16" fill="#e6e6e6"/><rect x="163" y="0" width="10" height="110" fill="#e6e6e6"/>
<line x1="163" y1="0" x2="163" y2="110" stroke="#000" stroke-dasharray="3 2" stroke-width=".7"/>
<path d="M4 78 C40 45 90 25 163 16" fill="none" stroke="#6a9bd5" stroke-width="2"/>
<rect x="220" y="0" width="183" height="110" fill="#fff" stroke="#000"/>
<rect x="390" y="0" width="13" height="110" fill="#e6e6e6"/>
<path d="M225 18 C240 45 255 60 290 72 C330 85 360 92 385 98" fill="none" stroke="#6a9bd5" stroke-width="4"/>
<line x1="330" y1="100" x2="385" y2="100" stroke="#3c7fc6" stroke-dasharray="4 3"/>
</svg>
<div class="a s sm" style="left:1190px;top:754px">MP bulk</div>
<div class="a s sm" style="left:1420px;top:760px;line-height:12px">α = 1, λ = 0.2<br>N = 2048, K = 512</div>
<div class="a s sm" style="left:1100px;top:762px">ν</div><div class="a s sm" style="left:1098px;top:785px">0.4</div><div class="a s sm" style="left:1098px;top:820px">0.2</div><div class="a s sm" style="left:1098px;top:858px">0.0</div>
<div class="a s sm" style="left:1320px;top:752px">1.0</div><div class="a s sm" style="left:1320px;top:800px">0.5</div><div class="a s sm" style="left:1320px;top:850px">0.0</div>
<div class="a s sm" style="left:1087px;top:813px;transform:rotate(-90deg);transform-origin:0 0">⟨ν<sub>min</sub>⟩</div>
<div class="a s sm" style="left:1307px;top:835px;transform:rotate(-90deg);transform-origin:0 0">overlap ⟨|u · ũ|⟩</div>
<div class="a s sm" style="left:1115px;top:866px">0.0&nbsp;&nbsp;&nbsp;&nbsp;&nbsp;&nbsp;&nbsp;&nbsp;&nbsp;&nbsp;&nbsp;&nbsp;&nbsp;&nbsp;&nbsp;&nbsp;&nbsp;&nbsp;&nbsp; 0.2&nbsp;&nbsp;&nbsp;&nbsp;&nbsp;&nbsp;&nbsp;&nbsp;&nbsp;&nbsp;&nbsp;&nbsp;&nbsp;&nbsp;&nbsp;&nbsp;&nbsp;&nbsp; 0.4</div>
<div class="a s sm" style="left:1335px;top:866px">0.0&nbsp;&nbsp;&nbsp;&nbsp;&nbsp;&nbsp;&nbsp;&nbsp;&nbsp;&nbsp;&nbsp;&nbsp;&nbsp;&nbsp;&nbsp;&nbsp;&nbsp;&nbsp;&nbsp; 0.2&nbsp;&nbsp;&nbsp;&nbsp;&nbsp;&nbsp;&nbsp;&nbsp;&nbsp;&nbsp;&nbsp;&nbsp;&nbsp;&nbsp;&nbsp;&nbsp;&nbsp;&nbsp; 0.4</div>
<div class="a s sm" style="left:1185px;top:876px">1/(1 + αβ)</div><div class="a s sm" style="left:1405px;top:876px">1/(1 + αβ)</div>
<div class="a" style="left:1200px;top:892px;font-size:8.5px"><b>ũ</b> : singular vector of <i>W</i>, ν<sub>min</sub>: smallest singular value</div>

<!-- references -->
<div class="a" style="left:1080px;top:928px;width:335px;white-space:normal;font-size:7.6px;line-height:12.8px;color:#333">
<div style="margin-bottom:3px"><span style="color:#3c7fc6">[1]</span> Marčenko, V. A., &amp; Pastur, L. A. (1967). Distribution of eigenvalues for some sets of random matrices. <i>Mathematics of the USSR-Sbornik, 1</i>(4), 457.</div>
<div style="margin-bottom:3px"><span style="color:#3c7fc6">[2]</span> Martin, C. H., &amp; Mahoney, M. W. (2021). Implicit self-regularization in deep neural networks: Evidence from random matrix theory and implications for learning. <i>Journal of Machine Learning Research, 22</i>(165), 1-73.</div>
<div>[3] Hsu, Y. C., Hua, T., Chang, S., Lou, Q., Shen, Y., &amp; Jin, H. (2022). Language model compression with weighted low-rank factorization. <i>International Conference on Learning Representations (ICLR)</i></div>
</div>
<svg class="g" style="left:1437px;top:925px" width="104" height="104" viewBox="0 0 26 26">
<rect width="26" height="26" fill="#fff"/>
<g fill="#000"><path d="M0 0h7v7H0zM19 0h7v7h-7zM0 19h7v7H0z"/></g>
<g fill="#fff"><path d="M1 1h5v5H1zM20 1h5v5h-5zM1 20h5v5H1z"/></g>
<g fill="#000"><path d="M2 2h3v3H2zM21 2h3v3h-3zM2 21h3v3H2z"/>
<path d="M8 0h2v2H8zM11 1h2v3h-2zM14 0h3v2h-3zM9 3h2v2H9zM15 4h3v2h-3zM8 6h1v2H8zM12 5h2v3h-2zM0 8h3v2H0zM4 9h3v1H4zM8 9h4v2H8zM13 9h2v3h-2zM16 8h3v2h-3zM20 8h2v3h-2zM23 9h3v2h-3zM1 12h2v3H1zM5 11h2v3H5zM9 12h3v2H9zM16 12h4v2h-4zM22 12h2v3h-2zM0 16h4v1H0zM6 15h3v3H6zM11 15h3v2h-3zM15 15h2v3h-2zM19 16h3v2h-3zM24 16h2v3h-2zM9 19h3v2H9zM14 19h2v4h-2zM18 19h4v2h-4zM8 22h3v4H8zM12 23h2v3h-2zM17 22h3v2h-3zM21 22h2v4h-2zM24 21h2v3h-2zM16 25h4v1h-4z"/></g>
</svg>

</div></body></html>
